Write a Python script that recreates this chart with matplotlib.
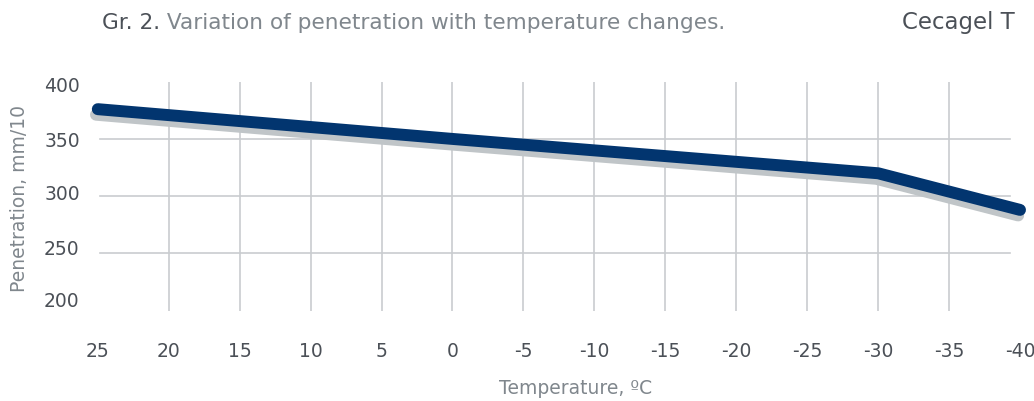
import matplotlib
matplotlib.use("Agg")
import matplotlib.pyplot as plt
import matplotlib.patheffects as pe
from matplotlib.transforms import ScaledTranslation

# ---- data ----
temperature = [25, 0, -30, -40]
penetration = [376, 350, 320, 288]
x_ticks = [25, 20, 15, 10, 5, 0, -5, -10, -15, -20, -25, -30, -35, -40]
x_tick_labels = ["25", "20", "15", "10", "5", "0", "-5", "-10", "-15", "-20", "-25", "-30", "-35", "-40"]
y_ticks = [200, 250, 300, 350, 400]
y_tick_labels = ["200", "250", "300", "350", "400"]
v_grid = [20, 15, 10, 5, 0, -5, -10, -15, -20, -25, -30, -35]
h_grid = [250, 300, 350]

title_a = "Gr. 2."
title_b = " Variation of penetration with temperature changes."
product = "Cecagel T"
xlabel = "Temperature, ºC"
ylabel = "Penetration, mm/10"

FONT = "DejaVu Sans"
DARK = "#4b5057"
LIGHT = "#80878d"
GRID = "#c9cccf"
NAVY = "#02356f"
SHADOW = "#c0c5c8"

W, H = 1034, 402
fig = plt.figure(figsize=(W / 100, H / 100), dpi=100)
left_px, right_px = 97.8, 1020.0
top_px, bot_px = 82.7, 311.6
ax = fig.add_axes([left_px / W, 1 - bot_px / H, (right_px - left_px) / W, (bot_px - top_px) / H])
ax.set_xlim(25, -40)
ax.set_ylim(200, 400)

for s in ax.spines.values():
    s.set_visible(False)

# grid
for v in v_grid:
    ax.axvline(v, color=GRID, lw=1.2, zorder=1)
x0 = (100 - left_px) / (right_px - left_px)
x1 = (1010 - left_px) / (right_px - left_px)
for h in h_grid:
    ax.axhline(h, xmin=x0, xmax=x1, color=GRID, lw=1.2, zorder=1)

# line with shadow
ax.plot(temperature, penetration, color=NAVY, lw=8.6, solid_capstyle="round",
        solid_joinstyle="round", zorder=3, clip_on=False,
        path_effects=[pe.SimpleLineShadow(offset=(-1.3, -4.0), shadow_color=SHADOW, alpha=1.0),
                      pe.Normal()])

ax.set_xticks(x_ticks)
ax.set_xticklabels(x_tick_labels, fontfamily=FONT, fontsize=13.5, color=DARK)
ax.set_yticks(y_ticks)
ax.set_yticklabels(y_tick_labels, fontfamily=FONT, fontsize=13.5, color=DARK)
ax.tick_params(axis="x", length=0, pad=22)
ax.tick_params(axis="y", length=0, pad=13)

# y tick label nudges to match reference placement (pixels)
y_nudge = {200: 12, 250: 7, 300: 4.5, 350: 0, 400: -2}
for lab, val in zip(ax.get_yticklabels(), y_ticks):
    dy = y_nudge[val] / 100.0
    lab.set_transform(lab.get_transform() + ScaledTranslation(0, dy, fig.dpi_scale_trans))

fig.text(20 / W, 1 - 198 / H, ylabel, rotation=90, ha="center", va="center",
         fontfamily=FONT, fontsize=13.5, color=LIGHT)
fig.text(576 / W, 1 - 389 / H, xlabel, ha="center", va="center",
         fontfamily=FONT, fontsize=13.5, color=LIGHT)

t1 = fig.text(102 / W, 1 - 23 / H, title_a, ha="left", va="center",
              fontfamily=FONT, fontsize=15.6, color=DARK)
ax.annotate(title_b, xy=(1, 0.5), xycoords=t1, ha="left", va="center",
            fontfamily=FONT, fontsize=15.6, color=LIGHT, annotation_clip=False)
fig.text(1015 / W, 1 - 22 / H, product, ha="right", va="center",
         fontfamily=FONT, fontsize=16.5, color=DARK)

fig.savefig("out.png", dpi=100)
